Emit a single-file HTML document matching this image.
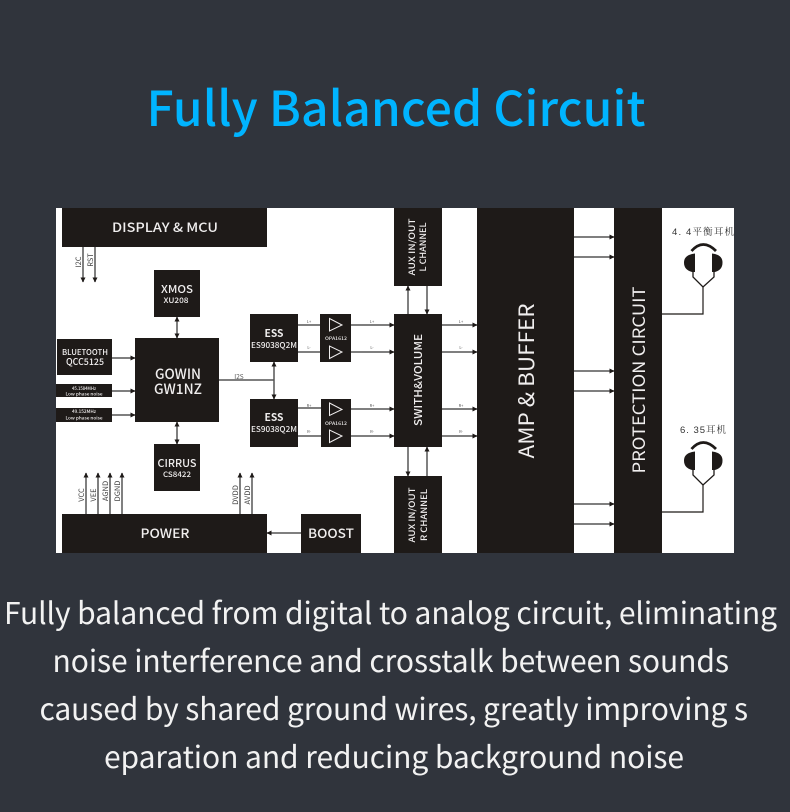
<!DOCTYPE html>
<html><head><meta charset="utf-8"><style>
html,body{margin:0;padding:0;background:#30343c}
svg{display:block}
text{font-family:"Noto Sans CJK SC","Liberation Sans",sans-serif}
.b{fill:#1e1a18}
.w{fill:#f0eeee;text-anchor:middle}
.l{stroke:#555;stroke-width:1.5;fill:none}
.s{fill:#555;text-anchor:middle;font-size:4px}
.v{fill:#444;font-size:7.5px;text-anchor:middle}
</style></head><body>
<svg width="790" height="812" viewBox="0 0 790 812" xmlns="http://www.w3.org/2000/svg">
<defs>
<marker id="a" markerWidth="5" markerHeight="5" refX="4.5" refY="2.5" orient="auto-start-reverse" markerUnits="userSpaceOnUse"><path d="M0 0L5 2.500L0 5z" fill="#1e1a18"/></marker>
<g id="hp">
<path d="M691.500 251Q703 238 716 251" fill="none" stroke="#1e1a18" stroke-width="2.800"/>
<path d="M695 253.500V272H692Q684 270 684 262.500Q684 256 692 254Z" fill="#1e1a18"/>
<path d="M712 253.500V272H715Q722.500 270 722.500 262.500Q722.500 256 715 254Z" fill="#1e1a18"/>
<path d="M693 272V277L703 287L714 277V272" fill="none" stroke="#1e1a18" stroke-width="1.300"/>
</g>
</defs>
<rect width="790" height="812" fill="#30343c"/>
<text x="146.500" y="126" font-size="48" font-weight="500" fill="#00b4ff" textLength="499" lengthAdjust="spacing">Fully Balanced Circuit</text>

<rect x="56" y="208" width="678" height="345" fill="#fff"/>

<!-- connectors -->
<g class="l" marker-end="url(#a)">
<path d="M83 247V282"/><path d="M95 247V282"/>
<path d="M177 317V338" marker-start="url(#a)"/>
<path d="M177 422V444" marker-start="url(#a)"/>
<path d="M112 358H135"/><path d="M112 391H135"/><path d="M112 415H135"/>
<path d="M274 362V399" marker-start="url(#a)"/>
<path d="M86 514V473"/><path d="M98 514V473"/><path d="M110 514V473"/><path d="M122 514V473"/><path d="M240 514V473"/><path d="M252 514V473"/>
<path d="M301 533H267"/>
<path d="M351 325H394"/><path d="M351 352H394"/><path d="M351 409H394"/><path d="M351 436H394"/>
<path d="M442 325H477"/><path d="M442 352H477"/><path d="M442 409H477"/><path d="M442 436H477"/>
<path d="M408 314V286"/><path d="M427 286V314"/><path d="M408 447V476"/><path d="M427 476V447"/>
<path d="M574 237H614"/><path d="M574 257H614"/><path d="M574 371H614"/><path d="M574 391H614"/><path d="M574 504H614"/><path d="M574 524H614"/>
</g>
<path class="l" d="M219 380H274"/>
<path class="l" d="M298 325H320M298 352H320M298 408H321M298 436H321"/>
<path d="M662 314H703V287M662 512H703V485" fill="none" stroke="#1e1a18" stroke-width="1.200"/>

<!-- blocks -->
<rect class="b" x="62" y="208" width="205" height="39"/>
<rect class="b" x="154" y="270" width="46" height="47"/>
<rect class="b" x="135" y="338" width="84" height="84"/>
<rect class="b" x="57" y="339" width="55" height="36"/>
<rect class="b" x="56" y="384" width="56" height="13"/>
<rect class="b" x="56" y="408" width="56" height="14"/>
<rect class="b" x="154" y="444" width="46" height="47"/>
<rect class="b" x="62" y="514" width="205" height="39"/>
<rect class="b" x="301" y="514" width="60" height="39"/>
<rect class="b" x="250" y="314" width="48" height="48"/>
<rect class="b" x="250" y="399" width="48" height="48"/>
<rect class="b" x="320" y="314" width="31" height="48"/>
<rect class="b" x="321" y="399" width="30" height="48"/>
<rect class="b" x="394" y="314" width="48" height="133"/>
<rect class="b" x="394" y="208" width="48" height="78"/>
<rect class="b" x="394" y="476" width="48" height="77"/>
<rect class="b" x="477" y="208" width="97" height="345"/>
<rect class="b" x="614" y="208" width="48" height="345"/>

<!-- triangles -->
<g fill="none" stroke="#f0eeee" stroke-width="1">
<path d="M329.500 318.500V331L342 325ZM329.500 346V358.500L342 352Z"/>
<path d="M329.500 403V415.500L342 409.500ZM329.500 430V442.500L342 436Z"/>
</g>

<!-- block labels -->
<g font-weight="500">
<text class="w" x="165" y="232" font-size="13" textLength="106" lengthAdjust="spacingAndGlyphs">DISPLAY &amp; MCU</text>
<text class="w" x="177" y="293" font-size="10.500" textLength="32" lengthAdjust="spacingAndGlyphs">XMOS</text>
<text class="w" x="176" y="303" font-size="7.500" textLength="25" lengthAdjust="spacingAndGlyphs">XU208</text>
<text class="w" x="178" y="379" font-size="14" textLength="46" lengthAdjust="spacingAndGlyphs">GOWIN</text>
<text class="w" x="178" y="394" font-size="14" textLength="48" lengthAdjust="spacingAndGlyphs">GW1NZ</text>
<text class="w" x="85" y="355" font-size="8" textLength="46" lengthAdjust="spacingAndGlyphs">BLUETOOTH</text>
<text class="w" x="85" y="365" font-size="9" textLength="38" lengthAdjust="spacingAndGlyphs">QCC5125</text>
<text class="w" x="84" y="390" font-size="4.500" textLength="24" lengthAdjust="spacingAndGlyphs">45.1584MHz</text>
<text class="w" x="84" y="395.500" font-size="4.500" textLength="37" lengthAdjust="spacingAndGlyphs">Low phase noise</text>
<text class="w" x="84" y="413" font-size="4.500" textLength="24" lengthAdjust="spacingAndGlyphs">49.152MHz</text>
<text class="w" x="84" y="419.500" font-size="4.500" textLength="37" lengthAdjust="spacingAndGlyphs">Low phase noise</text>
<text class="w" x="177" y="467" font-size="10.500" textLength="39" lengthAdjust="spacingAndGlyphs">CIRRUS</text>
<text class="w" x="177" y="477" font-size="7.500" textLength="28" lengthAdjust="spacingAndGlyphs">CS8422</text>
<text class="w" x="165" y="538" font-size="13" textLength="49" lengthAdjust="spacingAndGlyphs">POWER</text>
<text class="w" x="331" y="538" font-size="13" textLength="46" lengthAdjust="spacingAndGlyphs">BOOST</text>
<text class="w" x="274" y="337" font-size="10.500" font-weight="700" textLength="19" lengthAdjust="spacingAndGlyphs">ESS</text>
<text class="w" x="274" y="348" font-size="8" textLength="46" lengthAdjust="spacingAndGlyphs">ES9038Q2M</text>
<text class="w" x="274" y="421" font-size="10.500" font-weight="700" textLength="19" lengthAdjust="spacingAndGlyphs">ESS</text>
<text class="w" x="274" y="432" font-size="8" textLength="46" lengthAdjust="spacingAndGlyphs">ES9038Q2M</text>
<text class="w" x="336" y="340" font-size="4.500" textLength="22" lengthAdjust="spacingAndGlyphs">OPA1612</text>
<text class="w" x="336" y="425" font-size="4.500" textLength="22" lengthAdjust="spacingAndGlyphs">OPA1612</text>
<text class="w" transform="translate(422 380) rotate(-90)" font-size="11" textLength="92" lengthAdjust="spacingAndGlyphs">SWITH&amp;VOLUME</text>
<text class="w" transform="translate(415 247) rotate(-90)" font-size="8.500" textLength="57" lengthAdjust="spacingAndGlyphs">AUX IN/OUT</text>
<text class="w" transform="translate(426 247) rotate(-90)" font-size="8.500" textLength="49" lengthAdjust="spacingAndGlyphs">L CHANNEL</text>
<text class="w" transform="translate(415 515) rotate(-90)" font-size="8.500" textLength="55" lengthAdjust="spacingAndGlyphs">AUX IN/OUT</text>
<text class="w" transform="translate(427 515) rotate(-90)" font-size="8.500" textLength="52" lengthAdjust="spacingAndGlyphs">R CHANNEL</text>
</g>
<text class="w" transform="translate(534 381) rotate(-90)" font-size="21" textLength="155" lengthAdjust="spacingAndGlyphs">AMP &amp; BUFFER</text>
<text class="w" transform="translate(645 380) rotate(-90)" font-size="17" textLength="187" lengthAdjust="spacingAndGlyphs">PROTECTION CIRCUIT</text>

<!-- small connector labels -->
<text class="v" transform="translate(81 262) rotate(-90)">I2C</text>
<text class="v" transform="translate(93 260) rotate(-90)">RST</text>
<text class="v" transform="translate(84 495) rotate(-90)">VCC</text>
<text class="v" transform="translate(96 495) rotate(-90)">VEE</text>
<text class="v" transform="translate(108 491) rotate(-90)">AGND</text>
<text class="v" transform="translate(120 491) rotate(-90)">DGND</text>
<text class="v" transform="translate(238 495) rotate(-90)">DVDD</text>
<text class="v" transform="translate(250 495) rotate(-90)">AVDD</text>
<text x="239" y="379" fill="#555" font-size="6.500" text-anchor="middle">I2S</text>
<g class="s">
<text x="309" y="323">L+</text><text x="309" y="349">L-</text>
<text x="372" y="323">L+</text><text x="372" y="349">L-</text>
<text x="461" y="323">L+</text><text x="461" y="349">L-</text>
<text x="309" y="407">R+</text><text x="309" y="433">R-</text>
<text x="372" y="407">R+</text><text x="372" y="433">R-</text>
<text x="461" y="407">R+</text><text x="461" y="433">R-</text>
</g>

<!-- headphones -->
<use href="#hp"/>
<use href="#hp" y="198"/>
<text x="672" y="235" font-size="9.500" fill="#333" style="font-family:'Liberation Sans','Noto Serif CJK SC',serif" textLength="62" lengthAdjust="spacing">4. 4平衡耳机</text>
<text x="680" y="433" font-size="9.500" fill="#333" style="font-family:'Liberation Sans','Noto Serif CJK SC',serif" textLength="46" lengthAdjust="spacing">6. 35耳机</text>

<!-- body -->
<g fill="#f2f2f2" font-size="30" font-weight="400">
<text x="4" y="624" textLength="773" lengthAdjust="spacing">Fully balanced from digital to analog circuit, eliminating</text>
<text x="52.500" y="672" textLength="676.500" lengthAdjust="spacing">noise interference and crosstalk between sounds</text>
<text x="39.500" y="720" textLength="708.500" lengthAdjust="spacing">caused by shared ground wires, greatly improving s</text>
<text x="104" y="768" textLength="580" lengthAdjust="spacing">eparation and reducing background noise</text>
</g>
</svg>
</body></html>
